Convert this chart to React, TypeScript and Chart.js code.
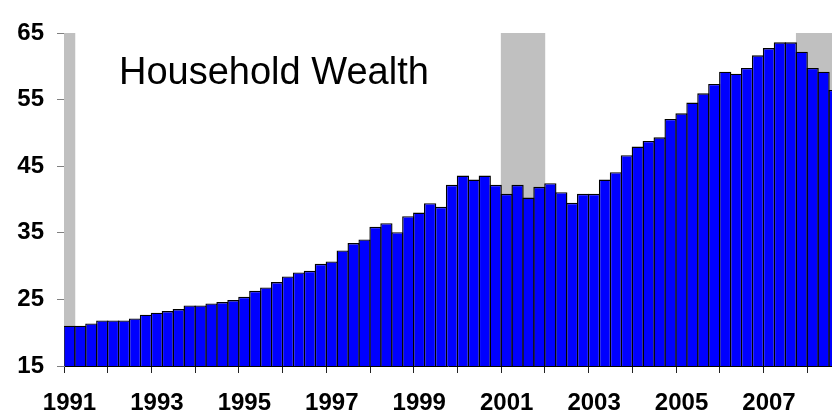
import { useEffect, useRef } from "react";
import { Chart, registerables } from "chart.js";

Chart.register(...registerables);

const quarters = [
  "1991Q1", "1991Q2", "1991Q3", "1991Q4",
  "1992Q1", "1992Q2", "1992Q3", "1992Q4",
  "1993Q1", "1993Q2", "1993Q3", "1993Q4",
  "1994Q1", "1994Q2", "1994Q3", "1994Q4",
  "1995Q1", "1995Q2", "1995Q3", "1995Q4",
  "1996Q1", "1996Q2", "1996Q3", "1996Q4",
  "1997Q1", "1997Q2", "1997Q3", "1997Q4",
  "1998Q1", "1998Q2", "1998Q3", "1998Q4",
  "1999Q1", "1999Q2", "1999Q3", "1999Q4",
  "2000Q1", "2000Q2", "2000Q3", "2000Q4",
  "2001Q1", "2001Q2", "2001Q3", "2001Q4",
  "2002Q1", "2002Q2", "2002Q3", "2002Q4",
  "2003Q1", "2003Q2", "2003Q3", "2003Q4",
  "2004Q1", "2004Q2", "2004Q3", "2004Q4",
  "2005Q1", "2005Q2", "2005Q3", "2005Q4",
  "2006Q1", "2006Q2", "2006Q3", "2006Q4",
  "2007Q1", "2007Q2", "2007Q3", "2007Q4",
  "2008Q1", "2008Q2", "2008Q3",
];

const wealth = [
  21.05, 21.05, 21.4, 21.85,
  21.85, 21.85, 22.15, 22.7,
  23.0, 23.25, 23.55, 24.1,
  24.1, 24.4, 24.6, 24.9,
  25.4, 26.3, 26.8, 27.6,
  28.45, 29.05, 29.3, 30.35,
  30.7, 32.35, 33.45, 34.0,
  35.9, 36.45, 35.1, 37.5,
  38.05, 39.45, 38.9, 42.2,
  43.6, 43.0, 43.6, 42.2,
  40.85, 42.2, 40.3, 41.9,
  42.45, 41.1, 39.5, 40.85,
  40.85, 43.0, 44.1, 46.65,
  47.95, 48.8, 49.35, 52.1,
  52.95, 54.55, 55.95, 57.35,
  59.2, 58.9, 59.75, 61.65,
  62.75, 63.6, 63.6, 62.2,
  59.75, 59.2, 56.45,
];

const recessionQuarters = [
  "1991Q1",
  "2001Q1", "2001Q2", "2001Q3", "2001Q4",
  "2007Q4", "2008Q1", "2008Q2", "2008Q3",
];

const yearLabels = ["1991", "1993", "1995", "1997", "1999", "2001", "2003", "2005", "2007"];
const yTicks = [15, 25, 35, 45, 55, 65];
const titleText = "Household Wealth";

const tickFont = { family: '"Liberation Sans", Arial, sans-serif', weight: "bold" as const, size: 24 };

export default function App() {
  const ref = useRef<HTMLCanvasElement>(null);

  useEffect(() => {
    const yMax = yTicks[yTicks.length - 1];
    const barData = wealth.map((v, i) => ({ x: i + 0.5, y: v }));
    const recData = quarters
      .map((q, i) => (recessionQuarters.includes(q) ? { x: i + 0.5, y: yMax } : null))
      .filter((d) => d !== null) as { x: number; y: number }[];
    const yearTickValues = quarters
      .map((q, i) => (q.endsWith("Q1") ? i : -1))
      .filter((i) => i >= 0);

    const titlePlugin = {
      id: "titleText",
      afterDatasetsDraw(chart: any) {
        const { ctx, chartArea } = chart;
        ctx.save();
        ctx.font = '38px "Liberation Sans", Arial, sans-serif';
        ctx.fillStyle = "#000";
        ctx.textBaseline = "alphabetic";
        ctx.textAlign = "left";
        ctx.fillText(titleText, chartArea.left + 55, chartArea.top + 51);
        ctx.restore();
      },
    };

    const chart = new Chart(ref.current!, {
      type: "bar",
      data: {
        datasets: [
          {
            label: "Household Wealth",
            data: barData,
            backgroundColor: "#0000FF",
            borderColor: "#000000",
            borderWidth: 1.4,
            borderSkipped: false,
            barPercentage: 1.12,
            categoryPercentage: 1,
            grouped: false,
            order: 1,
          } as any,
          {
            label: "Recession",
            data: recData,
            backgroundColor: "#C0C0C0",
            borderWidth: 0,
            barPercentage: 1,
            categoryPercentage: 1,
            grouped: false,
            order: 2,
          } as any,
        ],
      },
      options: {
        animation: false,
        responsive: false,
        maintainAspectRatio: false,
        layout: { padding: { top: 33, right: 0, left: 0, bottom: 0 } },
        plugins: {
          legend: { display: false },
          tooltip: { enabled: false },
          title: { display: false },
        },
        scales: {
          x: {
            type: "linear",
            offset: false,
            min: 0,
            max: 70.27,
            afterBuildTicks: (s: any) => {
              s.ticks = yearTickValues.map((v) => ({ value: v }));
            },
            afterFit: (s: any) => {
              s.height = 52;
            },
            grid: { offset: false, drawOnChartArea: false, drawTicks: true, tickLength: 7, color: "#222222", lineWidth: 1 },
            border: { display: true, color: "#000000", width: 1 },
            ticks: {
              autoSkip: false,
              maxRotation: 0,
              minRotation: 0,
              labelOffset: 5.5,
              padding: 16,
              color: "#000000",
              font: tickFont,
              callback: (value: any) => {
                const q = quarters[Math.round(Number(value))];
                if (!q) return "";
                const yr = q.slice(0, 4);
                return yearLabels.includes(yr) ? yr : "";
              },
            },
          },
          y: {
            min: yTicks[0],
            max: yMax,
            afterBuildTicks: (s: any) => {
              s.ticks = yTicks.map((v) => ({ value: v }));
            },
            afterFit: (s: any) => {
              s.width = 64;
            },
            grid: { drawOnChartArea: false, drawTicks: true, tickLength: 7, color: "#808080", lineWidth: 1 },
            border: { display: true, color: "#808080", width: 1 },
            ticks: {
              padding: 13,
              color: "#000000",
              font: tickFont,
            },
          },
        },
      },
      plugins: [titlePlugin],
    });

    return () => chart.destroy();
  }, []);

  return (
    <div style={{ position: "fixed", left: 0, top: 0, width: 832, height: 418, background: "#fff" }}>
      <canvas ref={ref} width={832} height={418} style={{ display: "block" }} />
    </div>
  );
}
